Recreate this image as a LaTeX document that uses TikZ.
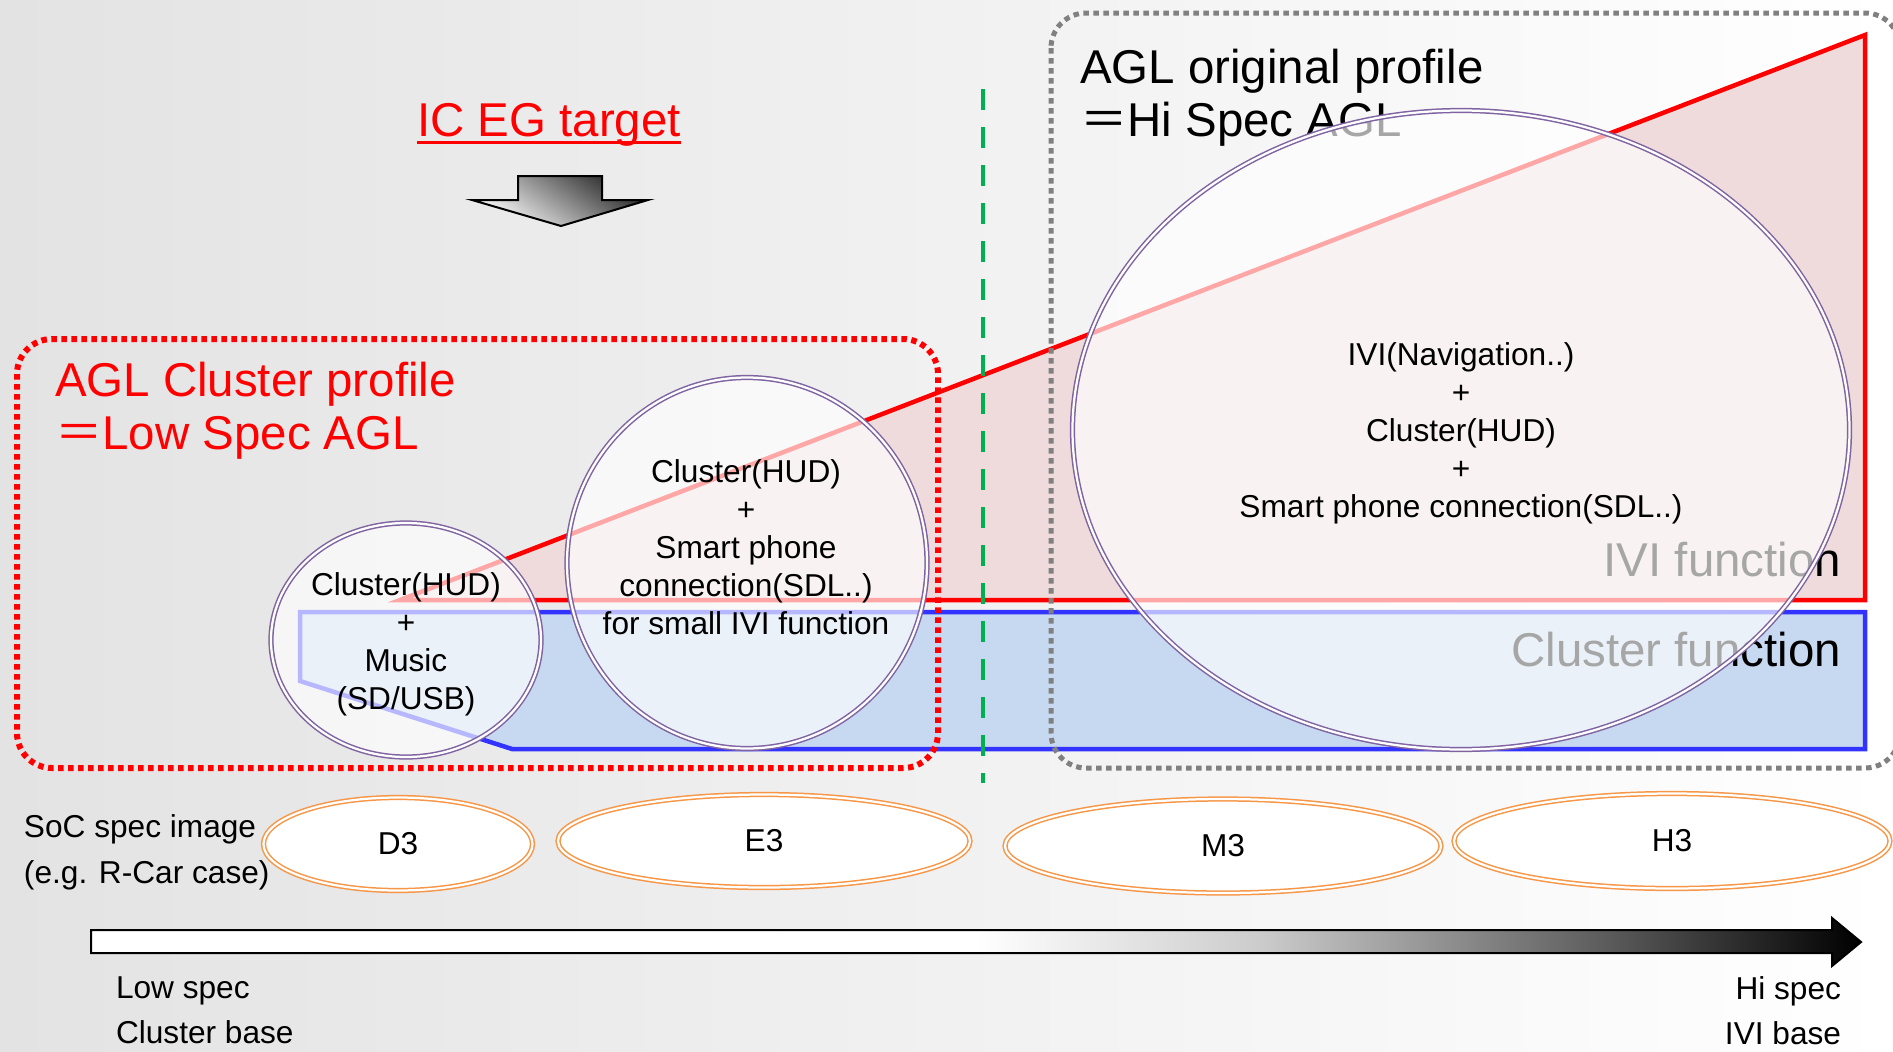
\documentclass[tikz,border=0pt]{standalone}
\usepackage{fontspec}
\setmainfont{Liberation Sans}
\newfontfamily\cjk{Noto Sans CJK JP}
\usetikzlibrary{positioning,shapes.geometric,calc}

\definecolor{iviline}{RGB}{255,0,0}
\definecolor{ivifill}{RGB}{239,219,219}
\definecolor{clusterline}{RGB}{51,51,255}
\definecolor{clusterfill}{RGB}{198,217,240}
\definecolor{bubbleline}{RGB}{128,100,162}
\definecolor{socline}{RGB}{247,150,70}
\definecolor{splitline}{RGB}{0,176,80}
\definecolor{hiframe}{RGB}{128,128,128}

\pgfdeclarehorizontalshading{specfade}{100bp}{color(0bp)=(white); color(50bp)=(white); color(58bp)=(black!20); color(68bp)=(black!65); color(75bp)=(black); color(100bp)=(black)}

\begin{document}
\begin{tikzpicture}[
        x=0.2mm, y=-0.2mm,
        every node/.style={inner sep=0pt, outer sep=0pt},
        small/.style={font=\fontsize{18}{21.6}\selectfont, align=center},
        big/.style={font=\fontsize{27}{30}\selectfont, align=left},
        bubble/.style={ellipse, draw=bubbleline, line width=0.3mm, double=white, double distance=0.45mm, fill=white, fill opacity=0.65},
        soc/.style={ellipse, draw=socline, line width=0.3mm, double=white, double distance=0.45mm, fill=white, small},
        frame/.style={rounded corners=7mm, line width=1.2mm, dash pattern=on 1.1mm off 0.9mm}
    ]
    \useasboundingbox (0,0) rectangle (1893,1052);
    \clip (0,0) rectangle (1893,1052);
    \shade[left color=black!11, right color=white] (0,0) rectangle (1893,1052);
    % Functions
    \filldraw[fill=ivifill, draw=iviline, line width=0.9mm] (400,600) -- (1865,35) -- (1865,600) -- cycle;
    \filldraw[fill=clusterfill, draw=clusterline, line width=0.9mm] (300,612) -- (1865,612) -- (1865,749) -- (512,749) -- (300,681) -- cycle;
    \node[big, anchor=base east] (ivilabel) at (1841,576) {IVI function};
    \node[big, anchor=base east] (clusterlabel) at (1841,666) {Cluster function};
    % Profiles
    \node[big, anchor=base west] (hiprofile) at (1080,136) {AGL original profile\\{\cjk ＝}Hi Spec AGL};
    \node[big, anchor=base west, text=red] (lowprofile) at (55,449) {AGL Cluster profile\\{\cjk ＝}Low Spec AGL};
    \draw[frame, draw=red] (17,339) rectangle (938,768);
    \draw[frame, draw=hiframe, line width=1mm] (1051,13) rectangle (1900,768);
    \draw[splitline, line width=0.8mm, dash pattern=on 4.2mm off 3.4mm] (983,89) -- (983,783);
    % Bubbles
    \node[bubble, minimum width=54mm, minimum height=46.8mm] (musicbub) at (406,640) {};
    \node[bubble, minimum width=72mm, minimum height=74.2mm] (sdlbub) at (747,563) {};
    \node[bubble, minimum width=155.4mm, minimum height=127.8mm] (navbub) at (1461,430) {};
    \node[small] (musictext) at (406,644) {Cluster(HUD)\\+\\Music\\(SD/USB)};
    \node[small] (sdltext) at (746,547) {Cluster(HUD)\\+\\Smart phone\\connection(SDL..)\\for small IVI function};
    \node[small] (navtext) at (1461,433) {IVI(Navigation..)\\+\\Cluster(HUD)\\+\\Smart phone connection(SDL..)};
    % SoC
    \node[small, align=left, anchor=base west, font=\fontsize{18}{26}\selectfont] (socnote) at (24,883) {SoC spec image\\(e.g. R-Car case)};
    \node[soc, minimum width=53.8mm, minimum height=18.6mm] (d3) at (398,844) {D3};
    \node[soc, minimum width=82.4mm, minimum height=18.6mm] (e3) at (764,841) {E3};
    \node[soc, minimum width=87.2mm, minimum height=18.8mm] (m3) at (1223,846) {M3};
    \node[soc, minimum width=87.2mm, minimum height=19mm] (h3) at (1672,841) {H3};
    % Target
    \node[big, text=red, anchor=base] (icg) at (549,136) {IC EG target};
    \draw[red, line width=0.6mm] ($(icg.base west)+(0,6)$) -- ($(icg.base east)+(0,6)$);
    \shade[draw=black, line width=0.4mm, top color=black!85, bottom color=white, shading angle=-35] (518,176) -- (602,176) -- (602,200) -- (648,200) -- (561,226) -- (472,200) -- (518,200) -- cycle;
    % Spec axis
    \shade[draw=black, line width=0.4mm, shading=specfade] (91,930) -- (1832,930) -- (1832,918) -- (1861,942) -- (1832,966) -- (1832,953) -- (91,953) -- cycle;
    \node[small, align=left, anchor=base west, font=\fontsize{18}{25.5}\selectfont] (lowend) at (116,1043) {Low spec\\Cluster base};
    \node[small, align=right, anchor=base east, font=\fontsize{18}{25.5}\selectfont] (hiend) at (1841,1044) {Hi spec\\IVI base};
\end{tikzpicture}
\end{document}
